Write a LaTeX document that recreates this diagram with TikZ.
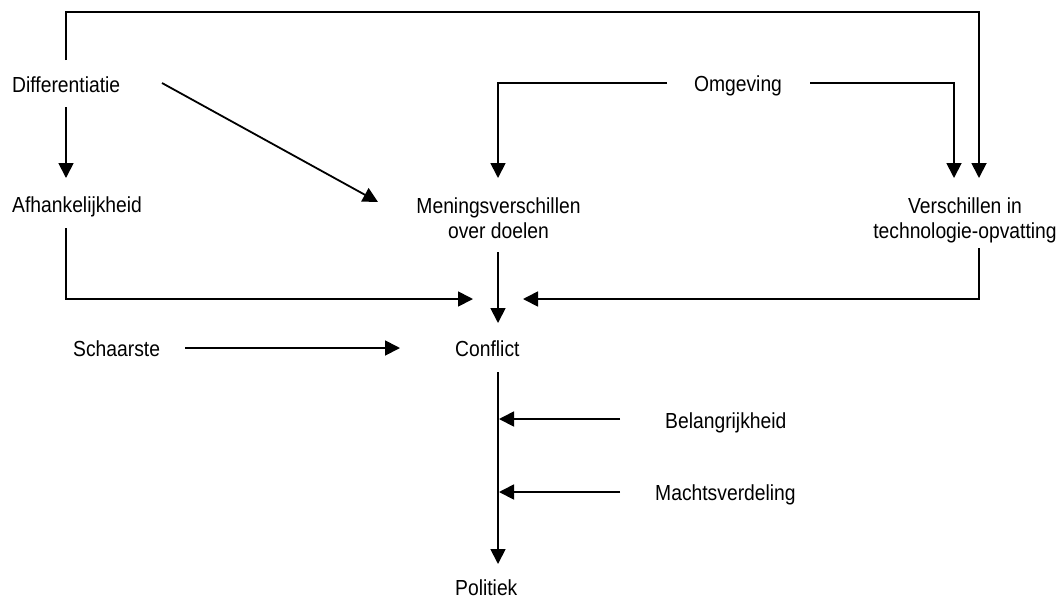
\documentclass[tikz,border=0pt]{standalone}
\usepackage{fontspec}
\setmainfont{Liberation Sans}[FakeStretch=0.885]
\usetikzlibrary{arrows.meta}

\tikzset{
  lbl/.style={inner sep=0pt, font=\fontsize{21.8}{25}\selectfont},
  wire/.style={line width=1.8pt},
  arr/.style={wire, -{Triangle[length=15pt,width=15pt]}}
}

\begin{document}
\begin{tikzpicture}[x=1pt, y=-1pt]
  \useasboundingbox (0,0) rectangle (1062,598);

  % concepts
  \node[lbl, anchor=base west] (diff) at (12,92)  {Differentiatie};
  \node[lbl, anchor=base west] (afh)  at (12,212) {Afhankelijkheid};
  \node[lbl, anchor=base]      (omg)  at (738,91) {Omgeving};
  \node[lbl, anchor=north, align=center] (men) at (498.5,197) {Meningsverschillen\\over doelen};
  \node[lbl, anchor=north, align=center] (vers) at (965,197) {Verschillen in\\technologie-opvatting};
  \node[lbl, anchor=base west] (schaars) at (73,356)  {Schaarste};
  \node[lbl, anchor=base west] (confl)   at (455,356) {Conflict};
  \node[lbl, anchor=base west] (belang)  at (665,428) {Belangrijkheid};
  \node[lbl, anchor=base west] (macht)   at (655,500) {Machtsverdeling};
  \node[lbl, anchor=base west] (polit)   at (455,595) {Politiek};

  % connector end points beside the labels
  \coordinate (diffTop)   at (66,60);
  \coordinate (diffBot)   at (66,107);
  \coordinate (diffRight) at (162,83);
  \coordinate (afhIn)     at (66,178);
  \coordinate (afhBot)    at (66,228);
  \coordinate (omgLeft)   at (667,83);
  \coordinate (omgRight)  at (810,83);
  \coordinate (menIn)     at (498,178);
  \coordinate (menDiag)   at (378,202);
  \coordinate (menBot)    at (498,252);
  \coordinate (versInA)   at (954,178);
  \coordinate (versInB)   at (979,178);
  \coordinate (versBot)   at (979,248);
  \coordinate (conflW)    at (473,299);
  \coordinate (conflN)    at (498,323);
  \coordinate (conflE)    at (523,299);
  \coordinate (schaarsE)  at (185,348);
  \coordinate (conflSW)   at (400,348);
  \coordinate (conflS)    at (498,372);
  \coordinate (politN)    at (498,564);
  \coordinate (belangW)   at (620,419);
  \coordinate (belangIn)  at (499,419);
  \coordinate (machtW)    at (620,492);
  \coordinate (machtIn)   at (499,492);

  % Differentiatie
  \draw[arr] (diffTop) -- (66,12) -- (979,12) -- (versInB);
  \draw[arr] (diffBot) -- (afhIn);
  \draw[arr] (diffRight) -- (menDiag);

  % Omgeving
  \draw[arr] (omgLeft) -| (menIn);
  \draw[arr] (omgRight) -| (versInA);

  % into Conflict
  \draw[arr] (afhBot) |- (conflW);
  \draw[arr] (menBot) -- (conflN);
  \draw[arr] (versBot) |- (conflE);
  \draw[arr] (schaarsE) -- (conflSW);

  % Conflict to Politiek, with moderating factors
  \draw[arr] (conflS) -- (politN);
  \draw[arr] (belangW) -- (belangIn);
  \draw[arr] (machtW) -- (machtIn);
\end{tikzpicture}
\end{document}
